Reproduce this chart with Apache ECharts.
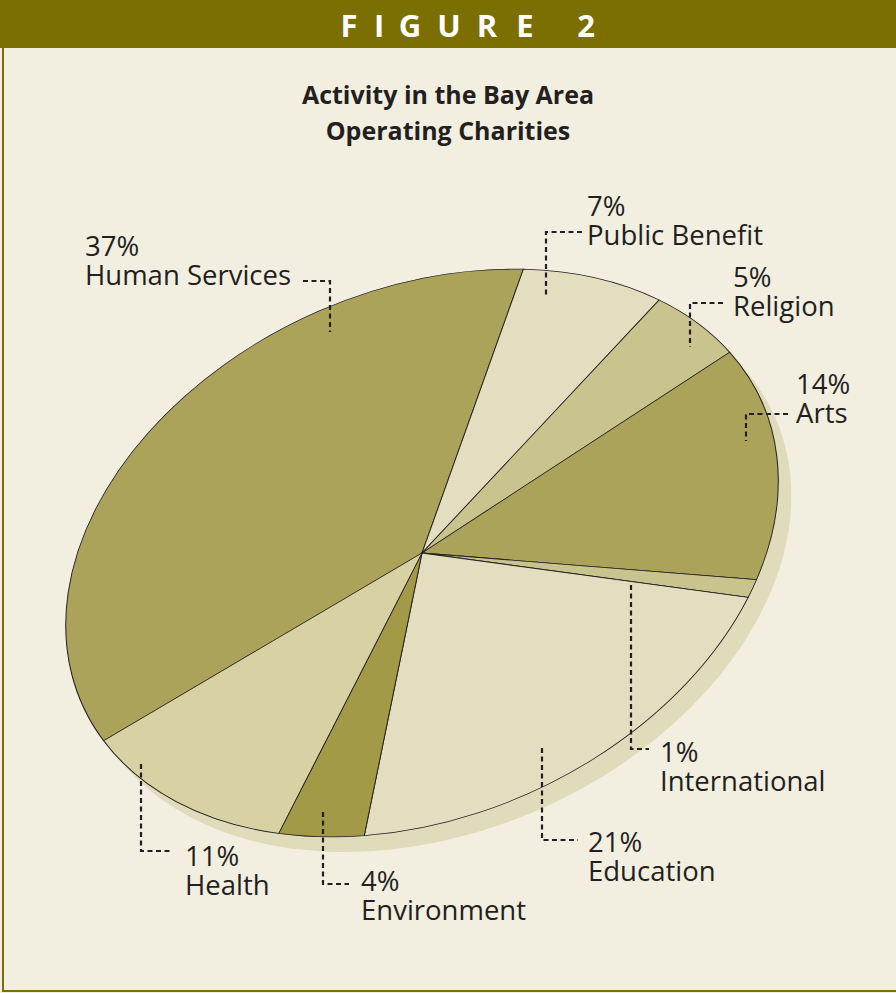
<!DOCTYPE html>
<html>
<head>
<meta charset="utf-8">
<script src="https://cdn.jsdelivr.net/npm/echarts@6/dist/echarts.min.js"></script>
<style>
html,body{margin:0;padding:0;background:#f2efe1;}
#wrap{position:relative;width:896px;height:993px;overflow:hidden;background:#f2efe1;}
#pie{position:absolute;left:122px;top:253px;width:600px;height:600px;transform-origin:300px 300px;transform:rotate(-24deg) scale(1.488,1.052);}
#overlay{position:absolute;left:0;top:0;width:896px;height:993px;}
</style>
</head>
<body>
<div id="wrap"><div id="pie"></div><div id="overlay"></div></div>
<script>
// ---- data ----
const categories = ['Human Services','Public Benefit','Religion','Arts','International','Education','Environment','Health'];
const values = [37, 7, 5, 14, 1, 21, 4, 11];
const titleLines = ['Activity in the Bay Area', 'Operating Charities'];
const figureLetters = ['F','I','G','U','R','E','2'];

// ---- styles / layout ----
const sliceColors = ['#aca35a','#e3dec0','#c9c38d','#aca35a','#c9c38d','#e3dec0','#a29a46','#d8d1a3'];
const shadowColor = '#e0dbba';
const ink = '#231f20';
const olive = '#7a6f00';
const figureLetterX = [349, 379, 410, 449, 487, 525, 586];
const labelAnchors = [[85,256],[587,216],[733,287],[796,394],[660,762],[588,852],[361,891],[185,866]];
const leaderPaths = [
  [[303,281],[330,281],[330,332]],
  [[582,232],[546,232],[546,295]],
  [[723,303],[690,303],[690,347]],
  [[788,414],[746,414],[746,441]],
  [[631,585],[631,749],[649,749]],
  [[542,748],[542,840],[578,840]],
  [[323,812],[323,884],[349,884]],
  [[141,764],[141,851],[172,851]]
];

// ---- pie (circle, affinely tilted into the ellipse by CSS) ----
const pieChart = echarts.init(document.getElementById('pie'), null, {renderer:'svg', width:600, height:600});
pieChart.setOption({
  animation: false,
  series: [
    {
      type:'pie', silent:true, radius:250, center:[303.9,318.1], startAngle:189.2,
      label:{show:false}, labelLine:{show:false}, emphasis:{disabled:true},
      data:[{value:1, itemStyle:{color:shadowColor}}]
    },
    {
      type:'pie', silent:true, radius:250, center:[300,300], startAngle:189.2, clockwise:true,
      avoidLabelOverlap:false,
      label:{show:false}, labelLine:{show:false}, emphasis:{disabled:true},
      itemStyle:{borderColor:ink, borderWidth:0.7},
      data: categories.map((c,i)=>({name:c, value:values[i], itemStyle:{color:sliceColors[i]}}))
    }
  ]
});

// ---- overlay: frame, header, title, labels ----
const overlay = echarts.init(document.getElementById('overlay'), null, {renderer:'svg', width:896, height:993});
const g = [];
g.push({type:'rect', shape:{x:0,y:0,width:896,height:48}, style:{fill:olive}});
g.push({type:'rect', shape:{x:2,y:48,width:2,height:944}, style:{fill:olive}});
g.push({type:'rect', shape:{x:2,y:990,width:894,height:2}, style:{fill:olive}});
figureLetters.forEach((ch,i)=>{
  g.push({type:'text', x:figureLetterX[i], y:25, style:{text:ch, fill:'#ffffff', font:'bold 31px "Open Sans"', textAlign:'center', verticalAlign:'middle'}});
});
g.push({type:'text', x:448, y:112, style:{text:titleLines.join('\n'), fill:ink, font:'bold 25px "Open Sans"', lineHeight:36, textAlign:'center', verticalAlign:'middle'}});
categories.forEach((c,i)=>{
  const [x,y] = labelAnchors[i];
  g.push({type:'text', x:x, y:y+4, style:{text:values[i]+'%\n'+c, fill:ink, font:'27.5px "Open Sans"', lineHeight:29, textAlign:'left', verticalAlign:'middle'}});
  g.push({type:'polyline', shape:{points:leaderPaths[i]}, style:{stroke:ink, lineWidth:2.2, lineDash:[5,3.5], fill:null}});
});
overlay.setOption({animation:false, graphic:{elements:g}});
</script>
</body>
</html>
